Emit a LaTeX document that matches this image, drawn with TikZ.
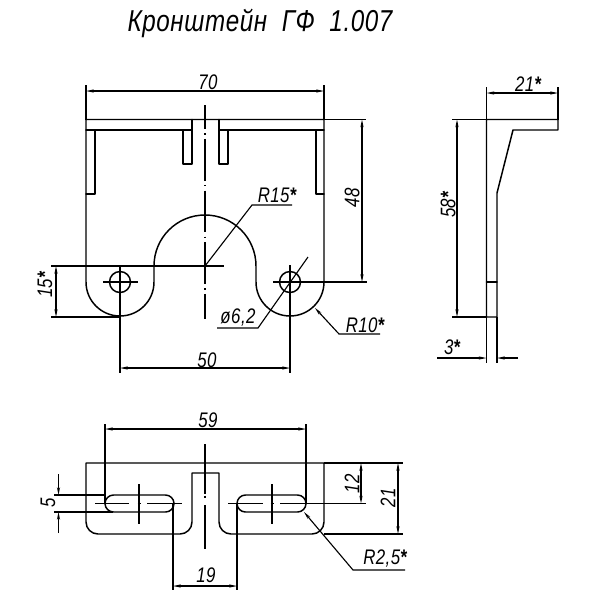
\documentclass[tikz,border=0pt]{standalone}
\usepackage{fontspec}
\setmainfont{Liberation Sans}
\newfontfamily\gostfont{Liberation Sans}[FakeStretch=0.8,LetterSpace=2]
\newcommand{\starmark}{\textbf{*}}
\usetikzlibrary{arrows.meta}

\begin{document}
\begin{tikzpicture}[x=0.025cm,y=-0.025cm,
    >={Stealth[length=5.5pt,width=2.2pt]},
    contour/.style={line width=1.05pt,line cap=round,line join=round},
    thinline/.style={line width=0.8pt},
    dim/.style={line width=0.8pt,<->},
    axisline/.style={line width=0.8pt,dash pattern=on 29.8pt off 3pt on 1pt off 3pt},
    label/.style={font=\gostfont\itshape\fontsize{15}{15}\selectfont,inner sep=0pt}]
   \useasboundingbox (0,0) rectangle (600,600);
   \node[inner sep=0pt,anchor=base,font=\gostfont\itshape\fontsize{21.5}{21.5}\selectfont] (title) at (260,31) {Кронштейн\ \ ГФ\ \ 1.007};

   % front view
   \draw[contour] (86,119.5) -- (324,119.5) -- (324,282) arc[start angle=0,end angle=180,radius=34]
     -- (256,266) arc[start angle=0,end angle=-180,radius=51]
     -- (154,282) arc[start angle=0,end angle=180,radius=34] -- cycle;
   \draw[contour] (95,130) -- (192,130) (192,119.5) -- (192,164) -- (183,164) -- (183,130);
   \draw[contour] (219,119.5) -- (219,164) -- (228,164) -- (228,130) (219,130) -- (316,130);
   \draw[contour] (86,130) -- (95,130) -- (95,194) -- (86,194);
   \draw[contour] (324,130) -- (316,130) -- (316,194) -- (324,194);
   \foreach \cx in {120,290} \draw[contour] (\cx,282) circle[radius=10.5];
   \draw[axisline,dash phase=12.8pt] (205,105) -- (205,319);
   \draw[thinline] (103,282) -- (138,282) (273,282) -- (367,282);
   \draw[thinline] (51,266) -- (224,266) (51,317) -- (120,317);
   \draw[thinline] (120,266) -- (120,373) (290,265) -- (290,373);
   \draw[thinline] (86,85) -- (86,119.5) (324,85) -- (324,119.5) (324,119.5) -- (366,119.5);
   \draw[dim] (86,91) -- (324,91);
   \node[label] (w70) at (208,82) {70};
   \draw[dim] (362,119.5) -- (362,282);
   \node[label,rotate=90] (h48) at (352,198) {48};
   \draw[dim] (56,266) -- (56,317);
   \node[label,rotate=90] (h15) at (45,285) {15\starmark};
   \draw[dim] (120,368) -- (290,368);
   \node[label] (w50) at (207,360) {50};
   \draw[thinline] (205,266) -- (252,205) -- (292,205);
   \node[label] (r15) at (277,195) {R15\starmark};
   \draw[thinline] (308,257) -- (258,328) -- (217,328);
   \node[label] (d62) at (238,317) {ø6,2};
   \draw[thinline,<-] (315,308) -- (339,334) -- (380,334);
   \node[label] (r10) at (365,325) {R10\starmark};

   % side view
   \draw[contour] (486.5,119.5) -- (558,119.5) -- (558,130) -- (513,130) -- (497,193) -- (497,317) -- (486.5,317) -- cycle;
   \draw[contour] (486.5,282) -- (497,282);
   \draw[thinline] (486.5,87) -- (486.5,119.5) (558,87) -- (558,119.5) (452,119.5) -- (486.5,119.5);
   \draw[thinline] (452,317) -- (486.5,317) (486.5,317) -- (486.5,363) (497,317) -- (497,363);
   \draw[dim] (486.5,93) -- (558,93);
   \node[label] (w21) at (528,84) {21\starmark};
   \draw[dim] (457,119.5) -- (457,317);
   \node[label,rotate=90] (h58) at (448,205) {58\starmark};
   \draw[thinline,->] (437,358) -- (486.5,358);
   \draw[thinline,->] (518,358) -- (497,358);
   \node[label] (t3) at (452,347) {3\starmark};

   % top view
   \draw[contour] (86,463) -- (324,463) -- (324,522) arc[start angle=0,end angle=90,radius=12]
     -- (231,534) arc[start angle=90,end angle=180,radius=12] -- (219,473) -- (192,473)
     -- (192,522) arc[start angle=0,end angle=90,radius=12]
     -- (98,534) arc[start angle=90,end angle=180,radius=12] -- cycle;
   \foreach \sx in {105,237} \draw[contour] (\sx+8.5,495) -- (\sx+60.5,495) arc[start angle=-90,end angle=90,radius=8.5]
     -- (\sx+8.5,512) arc[start angle=90,end angle=270,radius=8.5] -- cycle;
   \draw[thinline] (95,503.5) -- (129,503.5) (137.5,503.5) -- (140.5,503.5) (147,503.5) -- (182,503.5);
   \draw[thinline] (228,503.5) -- (263,503.5) (270.5,503.5) -- (273.5,503.5) (280,503.5) -- (366,503.5);
   \foreach \cx in {139,272} \draw[thinline] (\cx,484) -- (\cx,524);
   \draw[thinline] (205,444) -- (205,494) (205,495.5) -- (205,497.5) (205,505) -- (205,549);
   \draw[thinline] (324,463) -- (403,463) (324,534) -- (403,534);
   \draw[thinline] (105,424) -- (105,503.5) (306,424) -- (306,503.5);
   \draw[thinline] (173,503.5) -- (173,590) (237,503.5) -- (237,590);
   \draw[thinline] (54,495) -- (105,495) (54,512) -- (113,512);
   \draw[dim] (105,429) -- (306,429);
   \node[label] (w59) at (208,420) {59};
   \draw[dim] (173,586) -- (237,586);
   \node[label] (w19) at (206,575) {19};
   \draw[thinline,->] (58.5,474) -- (58.5,495);
   \draw[thinline,->] (58.5,533) -- (58.5,512);
   \node[label,rotate=90] (h5) at (48,503) {5};
   \draw[dim] (361,463) -- (361,503.5);
   \node[label,rotate=90] (h12) at (352,484) {12};
   \draw[dim] (398,463) -- (398,534);
   \node[label,rotate=90] (h21) at (388,498) {21};
   \draw[thinline,<-] (304,512) -- (353,570) -- (405,570);
   \node[label] (r25) at (385,558) {R2,5\starmark};
\end{tikzpicture}
\end{document}
